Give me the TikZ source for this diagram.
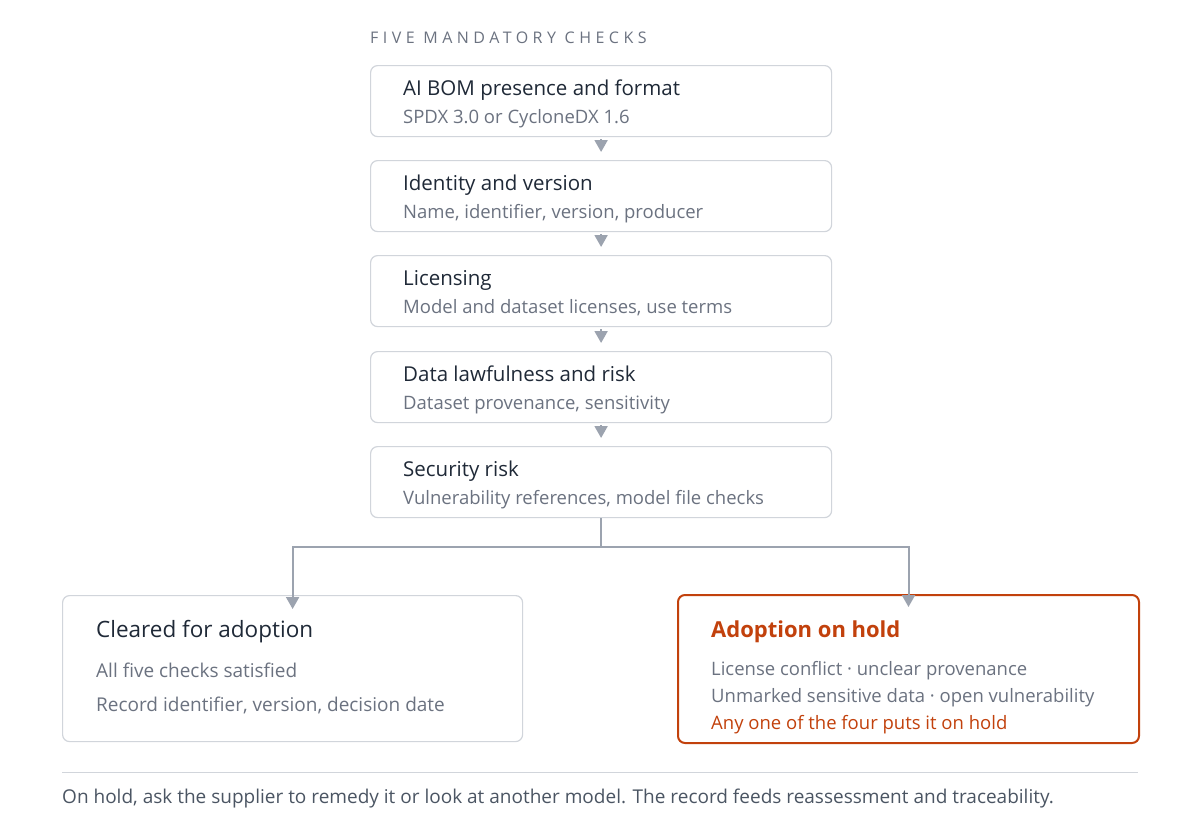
\documentclass[tikz,border=0pt]{standalone}
\usepackage{fontspec}
\setmainfont{Open Sans}
\usetikzlibrary{arrows.meta}
\definecolor{ink}{HTML}{1F2937}
\definecolor{sub}{HTML}{6B7280}
\definecolor{bord}{HTML}{D1D5DB}
\definecolor{arr}{HTML}{9CA3AF}
\definecolor{hold}{HTML}{C2410C}
\definecolor{foottxt}{HTML}{4B5563}
\begin{document}
\begin{tikzpicture}[x=1pt,y=-1pt,
  box/.style={draw=bord,line width=1.2pt,rounded corners=7pt,fill=white},
  ttl/.style={anchor=base west,inner sep=0pt,text=ink,font=\fontsize{20.5}{24}\selectfont},
  sb/.style={anchor=base west,inner sep=0pt,text=sub,font=\fontsize{18.5}{22}\selectfont},
  con/.style={draw=arr,line width=2pt,-{Triangle[width=13pt,length=12pt]}},
  flow/.style={draw=arr,line width=2pt}]
\useasboundingbox[fill=white] (0,0) rectangle (1200,825);
\node[anchor=base west,inner sep=0pt,text=sub,font=\fontsize{16}{18}\selectfont] (head) at (370,43) {\addfontfeature{LetterSpace=28}FIVE MANDATORY CHECKS};
\foreach \n/\y/\t/\s in {b1/65/AI BOM presence and format/SPDX 3.0 or CycloneDX 1.6,
  b2/160/Identity and version/{Name, identifier, version, producer},
  b3/255/Licensing/{Model and dataset licenses, use terms},
  b4/351/Data lawfulness and risk/{Dataset provenance, sensitivity},
  b5/446/Security risk/{Vulnerability references, model file checks}}{
  \node[box,minimum width=461pt,minimum height=71pt,anchor=north west] (\n) at (370,\y) {};
  \node[ttl] at (403,\y+30) {\t};
  \node[sb] at (403,\y+58) {\s};
}
\foreach \a/\b in {b1/b2,b2/b3,b3/b4,b4/b5}{
  \draw[con,shorten <=2pt,shorten >=8pt] (\a.south) -- (\b.north);
}
\node[box,minimum width=460pt,minimum height=146pt,anchor=north west] (ok) at (62,595) {};
\node[ttl,font=\fontsize{22.5}{26}\selectfont] at (96,637) {Cleared for adoption};
\node[sb,font=\fontsize{19}{22}\selectfont] at (96,677) {All five checks satisfied};
\node[sb,font=\fontsize{19}{22}\selectfont] at (96,711) {Record identifier, version, decision date};
\node[box,draw=hold,line width=2pt,minimum width=461pt,minimum height=148pt,anchor=north west] (no) at (677,594) {};
\node[ttl,text=hold,font=\fontsize{22}{26}\selectfont\bfseries] at (711,637) {Adoption on hold};
\node[sb,font=\fontsize{18.5}{22}\selectfont] at (711,675) {License conflict · unclear provenance};
\node[sb,font=\fontsize{18.5}{22}\selectfont] at (711,702) {Unmarked sensitive data · open vulnerability};
\node[sb,text=hold,font=\fontsize{18.5}{22}\selectfont] at (711,729) {Any one of the four puts it on hold};
\coordinate (j) at (600,547);
\draw[flow] (b5.south) -- (b5.south |- j);
\draw[con] (j) -| ([yshift=-14pt]ok.north);
\draw[con] (j) -| ([yshift=-13pt]no.north);
\draw[bord,line width=1pt] (62,772) -- (1138,772);
\node[sb,text=foottxt,font=\fontsize{19}{22}\selectfont] (foot) at (62,803) {On hold, ask the supplier to remedy it or look at another model. The record feeds reassessment and traceability.};
\end{tikzpicture}
\end{document}
